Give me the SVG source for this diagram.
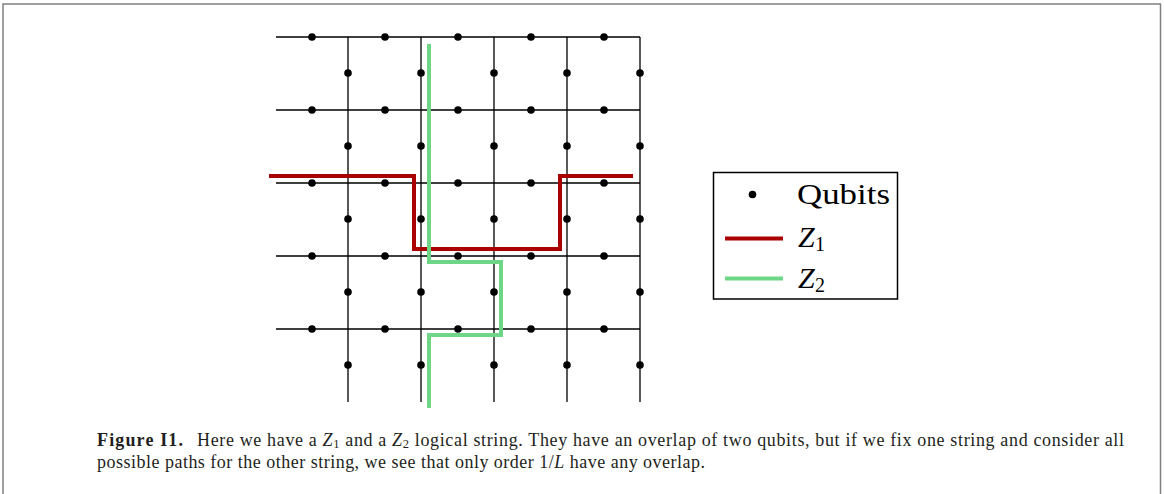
<svg xmlns="http://www.w3.org/2000/svg" width="1165" height="494" viewBox="0 0 1165 494">
<style>
.grid{stroke:#000;stroke-width:1.3;fill:none}
.q{fill:#000}
.z1{stroke:#aa0000;stroke-width:4;fill:none}
.z2{stroke:#6dd687;stroke-width:4;fill:none}
.leg{font-family:"Liberation Serif","DejaVu Serif",serif;fill:#000}
.cap{font-family:"Liberation Serif","DejaVu Serif",serif;font-size:18px;fill:#231f20}
</style>
<defs>
<circle id="dot" r="3.8" class="q"/>
</defs>
<rect width="1165" height="494" fill="#fff"/>
<path d="M3,494 V4 H1160.5 V494" fill="none" stroke="#808080" stroke-width="1.5"/>
<g id="lattice">
<g class="grid">
<path d="M276,37H640M276,110H640M276,183H640M276,256H640M276,329H640"/>
<path d="M348,37V402M421,37V402M494,37V402M567,37V402M640,37V402"/>
</g>
</g>
<g id="qubits">
<use href="#dot" x="312" y="37"/><use href="#dot" x="385" y="37"/><use href="#dot" x="458" y="37"/><use href="#dot" x="531" y="37"/><use href="#dot" x="604" y="37"/>
<use href="#dot" x="312" y="110"/><use href="#dot" x="385" y="110"/><use href="#dot" x="458" y="110"/><use href="#dot" x="531" y="110"/><use href="#dot" x="604" y="110"/>
<use href="#dot" x="312" y="183"/><use href="#dot" x="385" y="183"/><use href="#dot" x="458" y="183"/><use href="#dot" x="531" y="183"/><use href="#dot" x="604" y="183"/>
<use href="#dot" x="312" y="256"/><use href="#dot" x="385" y="256"/><use href="#dot" x="458" y="256"/><use href="#dot" x="531" y="256"/><use href="#dot" x="604" y="256"/>
<use href="#dot" x="312" y="329"/><use href="#dot" x="385" y="329"/><use href="#dot" x="458" y="329"/><use href="#dot" x="531" y="329"/><use href="#dot" x="604" y="329"/>
<use href="#dot" x="348" y="73"/><use href="#dot" x="421" y="73"/><use href="#dot" x="494" y="73"/><use href="#dot" x="567" y="73"/><use href="#dot" x="640" y="73"/>
<use href="#dot" x="348" y="146"/><use href="#dot" x="421" y="146"/><use href="#dot" x="494" y="146"/><use href="#dot" x="567" y="146"/><use href="#dot" x="640" y="146"/>
<use href="#dot" x="348" y="219"/><use href="#dot" x="421" y="219"/><use href="#dot" x="494" y="219"/><use href="#dot" x="567" y="219"/><use href="#dot" x="640" y="219"/>
<use href="#dot" x="348" y="292"/><use href="#dot" x="421" y="292"/><use href="#dot" x="494" y="292"/><use href="#dot" x="567" y="292"/><use href="#dot" x="640" y="292"/>
<use href="#dot" x="348" y="365"/><use href="#dot" x="421" y="365"/><use href="#dot" x="494" y="365"/><use href="#dot" x="567" y="365"/><use href="#dot" x="640" y="365"/>
</g>
<g id="strings">
<path id="z1-string" class="z1" d="M269,176H414V249H560V176H633"/>
<path id="z2-string" class="z2" d="M429,44V262H501V335H429V408"/>
</g>
<g id="legend">
<rect x="713.5" y="172.5" width="184" height="126.5" fill="#fff" stroke="#000" stroke-width="1.5"/>
<circle cx="752.5" cy="194.5" r="3.8" class="q"/>
<text class="leg" x="797" y="204" font-size="30" textLength="93" lengthAdjust="spacingAndGlyphs">Qubits</text>
<line x1="725" y1="238.5" x2="783" y2="238.5" class="z1"/>
<text class="leg" x="798" y="247" font-size="30" font-style="italic">Z</text>
<text class="leg" x="815" y="251" font-size="20">1</text>
<line x1="725" y1="278.5" x2="783" y2="278.5" class="z2"/>
<text class="leg" x="798" y="288" font-size="30" font-style="italic">Z</text>
<text class="leg" x="815" y="292" font-size="20">2</text>
</g>
<g id="caption">
<text class="cap" x="97" y="446"><tspan font-weight="bold" textLength="86" lengthAdjust="spacing">Figure I1.</tspan><tspan x="197" textLength="927" lengthAdjust="spacing">Here we have a <tspan font-style="italic">Z</tspan><tspan font-size="12.5" dy="2">1</tspan><tspan dy="-2"> and a </tspan><tspan font-style="italic">Z</tspan><tspan font-size="12.5" dy="2">2</tspan><tspan dy="-2"> logical string. They have an overlap of two qubits, but if we fix one string and consider all</tspan></tspan></text>
<text class="cap" x="97" y="468" textLength="608" lengthAdjust="spacing">possible paths for the other string, we see that only order 1/<tspan font-style="italic">L</tspan> have any overlap.</text>
</g>
</svg>
